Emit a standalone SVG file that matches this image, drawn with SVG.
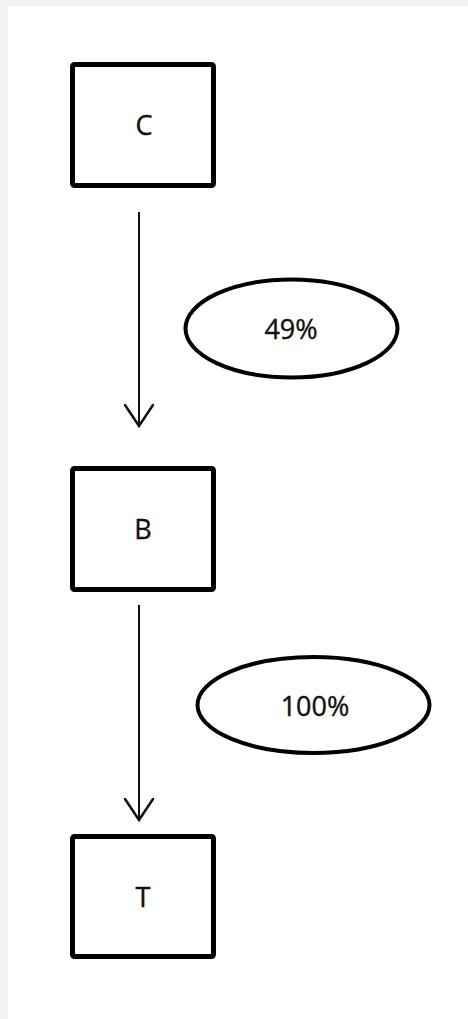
<svg xmlns="http://www.w3.org/2000/svg" width="468" height="1019" viewBox="0 0 468 1019">
<style>
.box{fill:#fff;stroke:#000;stroke-width:5;stroke-linejoin:round}
.oval{fill:#fff;stroke:#000;stroke-width:4}
.lbl{font-family:"Open Sans","Liberation Sans",sans-serif;font-size:27px;fill:#111;stroke:#111;stroke-width:0.4;text-anchor:middle}
.edge{stroke:#111;stroke-width:2;fill:none}
.head{stroke:#111;stroke-width:2.5;fill:none;stroke-linecap:round;stroke-linejoin:miter}
</style>
<rect x="0" y="0" width="468" height="1019" fill="#f3f3f3"/>
<rect x="8" y="6" width="460" height="1013" fill="#fff"/>
<g id="connectors">
  <line class="edge" x1="139" y1="212" x2="139" y2="426"/>
  <polyline class="head" points="125,405 139,426 153,405"/>
  <line class="edge" x1="139" y1="605" x2="139" y2="820"/>
  <polyline class="head" points="125,799 139,820 153,799"/>
</g>
<g id="node-C">
  <rect class="box" x="72.5" y="64.5" width="141" height="121" rx="2"/>
  <text class="lbl" x="144" y="135">C</text>
</g>
<g id="label-49">
  <ellipse class="oval" cx="291.5" cy="328.5" rx="106" ry="49"/>
  <text class="lbl" x="291" y="339">49%</text>
</g>
<g id="node-B">
  <rect class="box" x="72.5" y="468.5" width="141" height="121" rx="2"/>
  <text class="lbl" x="143" y="539">B</text>
</g>
<g id="label-100">
  <ellipse class="oval" cx="313.5" cy="705" rx="116" ry="48"/>
  <text class="lbl" x="315" y="716">100%</text>
</g>
<g id="node-T">
  <rect class="box" x="72.5" y="836.5" width="141" height="120" rx="2"/>
  <text class="lbl" x="143" y="907">T</text>
</g>
</svg>
